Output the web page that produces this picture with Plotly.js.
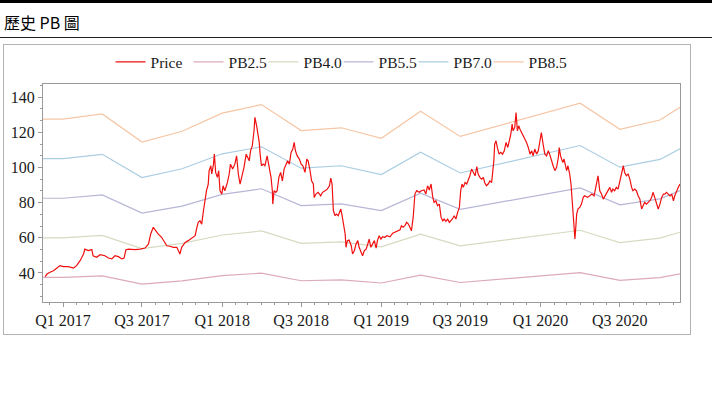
<!DOCTYPE html>
<html>
<head>
<meta charset="utf-8">
<script src="https://cdn.plot.ly/plotly-3.0.1.min.js"></script>
<style>
  html, body { margin: 0; padding: 0; background: #fff; }
  body { width: 712px; height: 397px; position: relative; overflow: hidden; }
  #bar { position: absolute; left: 0; top: 0; width: 712px; height: 3px; background: #000; }
  #ttl { position: absolute; left: 4px; top: 10px; font-family: 'Noto Sans CJK TC', sans-serif; font-size: 16px; line-height: 24px; color: #000; white-space: nowrap; }
  #rule { position: absolute; left: 0; top: 37px; width: 712px; height: 1px; background: #222; }
  #box { position: absolute; left: 3px; top: 44px; width: 686px; height: 289px; border: 1px solid #b4b4b4; }
  #chart { position: absolute; left: 0; top: 0; width: 686px; height: 289px; }
</style>
</head>
<body>
<div id="bar"></div>
<div id="ttl">歷史 PB 圖</div>
<div id="rule"></div>
<div id="box"><div id="chart"></div></div>
<script>
const priceDates = [
'2016-11-21','2016-11-25','2016-12-02','2016-12-10','2016-12-18','2016-12-25','2017-01-02','2017-01-13','2017-01-25','2017-02-01',
'2017-02-09','2017-02-17','2017-02-20','2017-02-28','2017-03-08','2017-03-11','2017-03-19','2017-03-27','2017-04-07','2017-04-15',
'2017-04-23','2017-04-30','2017-05-08','2017-05-16','2017-05-21','2017-05-25','2017-05-31','2017-06-11','2017-06-15','2017-06-27',
'2017-07-08','2017-07-16','2017-07-21','2017-07-27','2017-08-02','2017-08-07','2017-08-15','2017-08-19','2017-08-27','2017-09-03',
'2017-09-11','2017-09-19','2017-09-22','2017-09-26','2017-09-30','2017-10-08','2017-10-15','2017-10-23','2017-10-31','2017-11-04',
'2017-11-07','2017-11-11','2017-11-15','2017-11-19','2017-11-23','2017-11-26','2017-11-30','2017-12-02','2017-12-06','2017-12-08',
'2017-12-12','2017-12-14','2017-12-17','2017-12-21','2017-12-24','2017-12-27','2017-12-31','2018-01-03','2018-01-07','2018-01-13',
'2018-01-17','2018-01-20','2018-01-25','2018-01-30','2018-02-03','2018-02-07','2018-02-11','2018-02-15','2018-02-20','2018-02-25',
'2018-02-28','2018-03-04','2018-03-07','2018-03-11','2018-03-15','2018-03-17','2018-03-21','2018-03-25','2018-03-27','2018-03-29',
'2018-04-01','2018-04-05','2018-04-09','2018-04-14','2018-04-19','2018-04-23','2018-04-26','2018-04-27','2018-04-30','2018-05-04',
'2018-05-07','2018-05-11','2018-05-15','2018-05-19','2018-05-23','2018-05-27','2018-05-31','2018-06-04','2018-06-08','2018-06-12',
'2018-06-15','2018-06-18','2018-06-22','2018-06-27','2018-07-01','2018-07-05','2018-07-10','2018-07-14','2018-07-17','2018-07-21',
'2018-07-25','2018-07-29','2018-07-31','2018-08-04','2018-08-09','2018-08-15','2018-08-19','2018-08-25','2018-08-30','2018-09-04',
'2018-09-07','2018-09-10','2018-09-13','2018-09-17','2018-09-20','2018-09-24','2018-09-30','2018-10-03','2018-10-06','2018-10-10',
'2018-10-12','2018-10-15','2018-10-19','2018-10-24','2018-10-27','2018-10-31','2018-11-04','2018-11-08','2018-11-11','2018-11-15',
'2018-11-19','2018-11-23','2018-11-27','2018-12-01','2018-12-04','2018-12-08','2018-12-12','2018-12-16','2018-12-20','2018-12-23',
'2018-12-27','2018-12-31','2019-01-04','2019-01-09','2019-01-14','2019-01-21','2019-01-27','2019-02-01','2019-02-06','2019-02-13',
'2019-02-16','2019-02-20','2019-02-24','2019-02-28','2019-03-04','2019-03-08','2019-03-11','2019-03-15','2019-03-19','2019-03-23',
'2019-03-29','2019-04-03','2019-04-09','2019-04-13','2019-04-17','2019-04-21','2019-04-25','2019-04-29','2019-05-02','2019-05-06',
'2019-05-10','2019-05-14','2019-05-18','2019-05-22','2019-05-25','2019-05-29','2019-06-02','2019-06-06','2019-06-10','2019-06-13',
'2019-06-17','2019-06-21','2019-06-25','2019-06-29','2019-07-02','2019-07-05','2019-07-08','2019-07-12','2019-07-16','2019-07-19',
'2019-07-23','2019-07-27','2019-07-31','2019-08-04','2019-08-08','2019-08-11','2019-08-15','2019-08-19','2019-08-23','2019-08-26',
'2019-08-30','2019-09-03','2019-09-07','2019-09-11','2019-09-13','2019-09-16','2019-09-18','2019-09-21','2019-09-24','2019-09-28',
'2019-10-02','2019-10-06','2019-10-10','2019-10-14','2019-10-18','2019-10-21','2019-10-25','2019-10-28','2019-10-30','2019-11-03',
'2019-11-06','2019-11-09','2019-11-12','2019-11-15','2019-11-19','2019-11-22','2019-11-26','2019-11-30','2019-12-04','2019-12-08',
'2019-12-12','2019-12-15','2019-12-19','2019-12-23','2019-12-27','2019-12-31','2020-01-03','2020-01-07','2020-01-11','2020-01-15',
'2020-01-19','2020-01-22','2020-01-26','2020-01-30','2020-02-03','2020-02-07','2020-02-11','2020-02-13','2020-02-16','2020-02-21',
'2020-02-24','2020-02-27','2020-03-01','2020-03-04','2020-03-08','2020-03-11','2020-03-13','2020-03-15','2020-03-17','2020-03-20',
'2020-03-22','2020-03-24','2020-03-27','2020-03-31','2020-04-04','2020-04-08','2020-04-11','2020-04-18','2020-04-23','2020-04-28',
'2020-05-03','2020-05-09','2020-05-12','2020-05-16','2020-05-20','2020-05-24','2020-05-28','2020-05-31','2020-06-04','2020-06-08',
'2020-06-12','2020-06-15','2020-06-19','2020-06-23','2020-06-27','2020-07-01','2020-07-05','2020-07-09','2020-07-12','2020-07-16',
'2020-07-20','2020-07-24','2020-07-28','2020-07-31','2020-08-04','2020-08-08','2020-08-12','2020-08-16','2020-08-20','2020-08-23',
'2020-08-27','2020-08-31','2020-09-04','2020-09-08','2020-09-12','2020-09-15','2020-09-19','2020-09-23','2020-09-27','2020-10-01',
'2020-10-05','2020-10-09','2020-10-12','2020-10-16','2020-10-20','2020-10-24','2020-10-28','2020-11-01','2020-11-04','2020-11-08',
'2020-11-12','2020-11-16'
];
const priceValues = [
37.9,39.4,40.4,41.3,42.8,44.2,43.6,43.6,42.8,44.2,
47.0,50.8,53.6,52.7,53.3,49.8,48.9,50.4,49.8,48.5,
48.0,49.8,49.3,48.0,48.5,53.1,53.6,53.1,53.3,53.6,
54.2,56.5,62.2,66.0,64.0,62.2,60.3,58.4,55.5,55.2,
54.6,54.6,53.3,50.8,54.6,57.4,58.4,59.9,61.2,66.0,
68.8,69.7,67.8,75.4,83.0,86.8,90.6,98.2,101.0,96.3,
101.9,107.6,97.2,94.4,98.2,86.8,84.9,89.6,86.8,91.5,
96.3,101.9,99.1,101.9,106.6,96.3,90.6,94.4,100.1,107.6,
105.7,103.8,109.5,112.3,120.9,128.5,123.7,118.0,114.3,107.6,
101.0,101.9,101.0,106.6,100.1,94.4,86.8,79.2,86.8,85.9,
86.8,94.4,97.2,92.4,99.1,101.0,103.8,101.9,108.6,110.5,
114.3,109.5,106.6,104.8,101.9,101.0,97.2,104.8,103.8,99.0,
92.4,90.6,83.0,84.9,85.9,83.9,85.9,86.8,87.7,89.6,
94.0,90.6,75.4,72.6,73.5,72.6,76.4,72.6,67.8,62.2,
54.6,58.4,58.8,55.5,50.8,52.7,56.5,58.4,54.6,51.8,
49.8,52.7,53.6,56.5,59.3,54.6,56.5,58.4,54.2,58.4,
61.2,59.3,60.6,60.3,61.2,60.6,62.6,63.1,64.0,64.6,
66.9,66.0,66.9,68.8,67.8,66.0,64.0,71.6,84.9,86.8,
85.9,86.8,87.2,84.9,89.6,87.2,90.6,83.0,80.2,81.1,
78.3,79.2,71.6,69.7,70.7,69.4,70.7,68.8,69.7,70.7,
72.6,70.7,74.5,77.3,86.8,90.6,88.7,91.5,90.6,92.4,
95.3,99.1,97.2,95.3,100.5,96.3,94.4,93.4,94.4,91.5,
89.6,90.6,92.4,91.5,96.3,103.8,113.3,115.2,111.4,107.6,
108.6,107.6,109.5,114.3,111.4,114.3,119.0,124.7,120.9,122.8,
131.3,120.9,123.7,121.8,119.9,119.0,117.1,114.3,111.4,107.6,
109.5,106.6,110.5,107.6,109.5,115.2,119.9,113.3,107.6,106.6,
109.5,107.6,103.8,101.0,98.2,100.1,105.7,111.4,106.6,102.9,
104.8,101.0,98.2,101.0,96.3,90.6,83.0,75.4,67.8,59.3,
66.0,73.5,76.4,77.3,79.2,83.0,83.9,83.0,83.9,84.9,
83.9,90.6,95.3,86.8,84.9,82.0,83.9,84.9,86.8,88.7,
85.9,87.7,86.8,88.7,87.7,92.4,95.3,101.0,97.2,95.3,
96.3,93.4,88.7,86.8,87.7,86.8,83.9,82.0,76.4,78.3,
80.2,79.2,80.2,81.1,83.0,85.9,83.0,80.2,76.4,79.2,
83.0,84.9,84.9,85.9,84.9,83.9,84.9,81.1,83.9,86.8,
88.7,90.6
];

const bandDates = ['2016-11-16','2017-01-01','2017-04-01','2017-07-01','2017-10-01','2018-01-01','2018-04-01','2018-07-01',
                   '2018-10-01','2019-01-01','2019-04-01','2019-07-01','2020-04-01','2020-07-01','2020-10-01','2020-11-16'];
const pb25 = [37.5,37.5,38.4,33.7,35.5,38.5,39.9,35.6,36.1,34.3,38.8,34.6,40.2,35.8,37.4,39.5];
const pb40 = [60.0,60.0,61.4,53.9,56.8,61.6,63.9,56.9,57.7,54.9,62.1,55.4,64.3,57.3,59.8,63.2];
const pb55 = [82.5,82.5,84.4,74.1,78.0,84.7,87.9,78.3,79.3,75.5,85.4,76.2,88.4,78.8,82.2,86.9];
const pb70 = [105.0,105.0,107.5,94.3,99.3,107.8,111.8,99.6,101.0,96.0,108.7,96.9,112.5,100.2,104.6,110.6];
const pb85 = [127.5,127.5,130.5,114.5,120.6,130.9,135.8,121.0,122.6,116.6,132.0,117.7,136.6,121.7,127.0,134.3];

const seriesNames = ['Price','PB2.5','PB4.0','PB5.5','PB7.0','PB8.5'];
const tickDates = ['2017-01-01','2017-07-01','2018-01-01','2018-07-01','2019-01-01','2019-07-01','2020-01-01','2020-07-01'];
const tickLabels = ['Q1 2017','Q3 2017','Q1 2018','Q3 2018','Q1 2019','Q3 2019','Q1 2020','Q3 2020'];

const bandColors = ['#dcaab8','#d3dcc0','#b6b6d6','#aacde2','#f5c6a5'];
const bands = [pb25, pb40, pb55, pb70, pb85];

const traces = bands.map((vals, i) => ({
  type: 'scatter', mode: 'lines', x: bandDates, y: vals, name: seriesNames[i + 1],
  line: { color: bandColors[i], width: 1.2 }, legendrank: i + 2, hoverinfo: 'skip',
  legendwidth: i === bands.length - 1 ? 42 : 30
}));
traces.push({
  type: 'scatter', mode: 'lines', x: priceDates, y: priceValues, name: seriesNames[0],
  line: { color: '#f01010', width: 1.2 }, legendrank: 1, hoverinfo: 'skip', legendwidth: 33
});

const axisGray = '#9a9a9a';
const layout = {
  width: 686, height: 289,
  margin: { l: 39, r: 10, t: 39, b: 32, pad: 0, autoexpand: false },
  paper_bgcolor: '#ffffff', plot_bgcolor: '#ffffff',
  font: { family: 'Liberation Serif, serif', size: 16, color: '#1a1a1a' },
  showlegend: true,
  legend: {
    orientation: 'h', x: 0.471, xanchor: 'center',
    y: 1.1, yanchor: 'middle', font: { size: 15.5, color: '#1a1a1a' },
    bgcolor: 'rgba(0,0,0,0)', traceorder: 'normal'
  },
  xaxis: {
    type: 'date', range: ['2016-11-16', '2020-11-16'],
    tickmode: 'array', tickvals: tickDates, ticktext: tickLabels, tickangle: 0,
    ticks: 'outside', ticklen: 4, tickcolor: axisGray, tickwidth: 1,
    showline: true, linecolor: axisGray, linewidth: 1, mirror: true,
    showgrid: false, zeroline: false,
    minor: { dtick: 'M1', tick0: '2017-01-01', ticks: 'outside', ticklen: 2, tickcolor: axisGray, showgrid: false }
  },
  yaxis: {
    range: [23.5, 147.5], tickmode: 'linear', tick0: 0, dtick: 20,
    ticks: 'outside', ticklen: 4, tickcolor: axisGray, tickwidth: 1,
    showline: true, linecolor: axisGray, linewidth: 1, mirror: true,
    showgrid: false, zeroline: false,
    minor: { tickmode: 'linear', tick0: 0, dtick: 20 / 3, ticks: 'outside', ticklen: 2, tickcolor: axisGray, showgrid: false }
  }
};

Plotly.newPlot('chart', traces, layout, { staticPlot: true, displayModeBar: false });
</script>
</body>
</html>
